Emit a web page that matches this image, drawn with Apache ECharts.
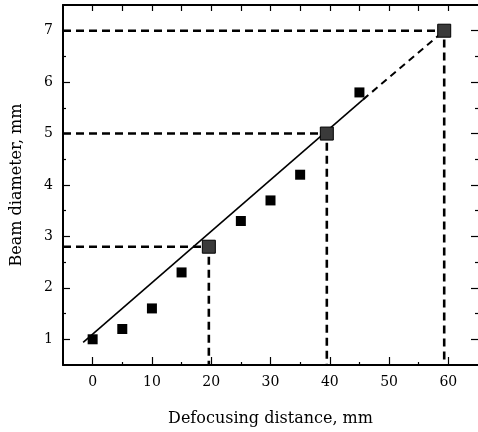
<!DOCTYPE html>
<html>
<head>
<meta charset="utf-8">
<script src="https://cdn.jsdelivr.net/npm/echarts@6/dist/echarts.min.js"></script>
<style>
  html, body { margin: 0; padding: 0; background: #fff; }
  #chart { width: 478px; height: 432px; }
</style>
</head>
<body>
<div id="chart"></div>
<script>
// measured points (defocusing distance, beam diameter)
var xData = [0, 5, 10, 15, 25, 30, 35, 45];
var yData = [1.0, 1.2, 1.6, 2.3, 3.3, 3.7, 4.2, 5.8];
// highlighted points where the dashed guides meet
var markX = [19.6, 39.5, 59.3];
var markY = [2.8, 5.0, 7.0];
// fitted line: solid part then dashed extrapolation
var fitSolid = [[-1.6, 0.94], [45.6, 5.66]];
var fitDashed = [[45.6, 5.66], [59.3, 7.0]];

// ticks / labels
var xLabels = [0, 10, 20, 30, 40, 50, 60];
var xMinor = [5, 15, 25, 35, 45, 55];
var xTop = [0, 5, 10, 15, 20, 25, 30, 35, 40, 45, 50, 55, 60];
var yLabels = [1, 2, 3, 4, 5, 6, 7];
var yMinor = [1.5, 2.5, 3.5, 4.5, 5.5, 6.5];

var XMIN = -5, XMAX = 65, YMIN = 0.5, YMAX = 7.5;

var serif = 'DejaVu Serif';

function zip(a, b) {
  return a.map(function (v, i) { return [v, b[i]]; });
}

// L-shaped guide from the y axis to the point, then down to the x axis
var guides = markX.map(function (x, i) {
  return {
    type: 'line',
    data: [[XMIN, markY[i]], [x, markY[i]], [x, YMIN]],
    symbol: 'none',
    silent: true,
    z: 1,
    lineStyle: { color: '#000', width: 2.6, type: [8, 5] }
  };
});

function tickAxis(pos, min, max, len, values, line) {
  return {
    type: 'value', position: pos, min: min, max: max,
    axisLine: { show: !!line, onZero: false, lineStyle: { color: '#000', width: 2 } },
    axisTick: { show: true, inside: true, length: len, customValues: values, lineStyle: { color: '#000', width: 1.2 } },
    axisLabel: { show: false },
    splitLine: { show: false }
  };
}

var myChart = echarts.init(document.getElementById('chart'));

var option = {
  animation: false,
  backgroundColor: '#fff',
  grid: { left: 63, right: -2, top: 5, bottom: 66 },
  xAxis: [
    {
      type: 'value', position: 'bottom', min: XMIN, max: XMAX,
      name: 'Defocusing distance, mm', nameLocation: 'middle', nameGap: 46,
      nameTextStyle: { fontFamily: serif, fontSize: 16, color: '#000' },
      axisLine: { onZero: false, lineStyle: { color: '#000', width: 2 } },
      axisTick: { inside: true, length: 8, customValues: xLabels, lineStyle: { color: '#000', width: 1.2 } },
      axisLabel: { customValues: xLabels, margin: 10, fontFamily: serif, fontSize: 14, color: '#000' },
      splitLine: { show: false }
    },
    tickAxis('bottom', XMIN, XMAX, 3, xMinor, false),
    tickAxis('top', XMIN, XMAX, 6, xTop, true)
  ],
  yAxis: [
    {
      type: 'value', position: 'left', min: YMIN, max: YMAX,
      name: 'Beam diameter, mm', nameLocation: 'middle', nameGap: 38,
      nameTextStyle: { fontFamily: serif, fontSize: 16, color: '#000' },
      axisLine: { show: true, onZero: false, lineStyle: { color: '#000', width: 2 } },
      axisTick: { show: true, inside: true, length: 7, customValues: yLabels, lineStyle: { color: '#000', width: 1.2 } },
      axisLabel: { customValues: yLabels, margin: 10, fontFamily: serif, fontSize: 14, color: '#000' },
      splitLine: { show: false }
    },
    tickAxis('left', YMIN, YMAX, 3, yMinor, false),
    tickAxis('right', YMIN, YMAX, 7, yLabels, false),
    tickAxis('right', YMIN, YMAX, 3, yMinor, false)
  ],
  series: guides.concat([
    {
      type: 'line', data: fitSolid, symbol: 'none', silent: true, z: 2,
      lineStyle: { color: '#000', width: 1.6 }
    },
    {
      type: 'line', data: fitDashed, symbol: 'none', silent: true, z: 2,
      lineStyle: { color: '#000', width: 2, type: [7, 5] }
    },
    {
      type: 'scatter', data: zip(xData, yData), symbol: 'rect', symbolSize: 10, z: 3,
      itemStyle: { color: '#000', opacity: 1 }
    },
    {
      type: 'scatter', data: zip(markX, markY), symbol: 'rect', symbolSize: 13, z: 3,
      itemStyle: { color: '#3a3a3a', borderColor: '#000', borderWidth: 1, opacity: 1 }
    }
  ])
};

myChart.setOption(option);
</script>
</body>
</html>
